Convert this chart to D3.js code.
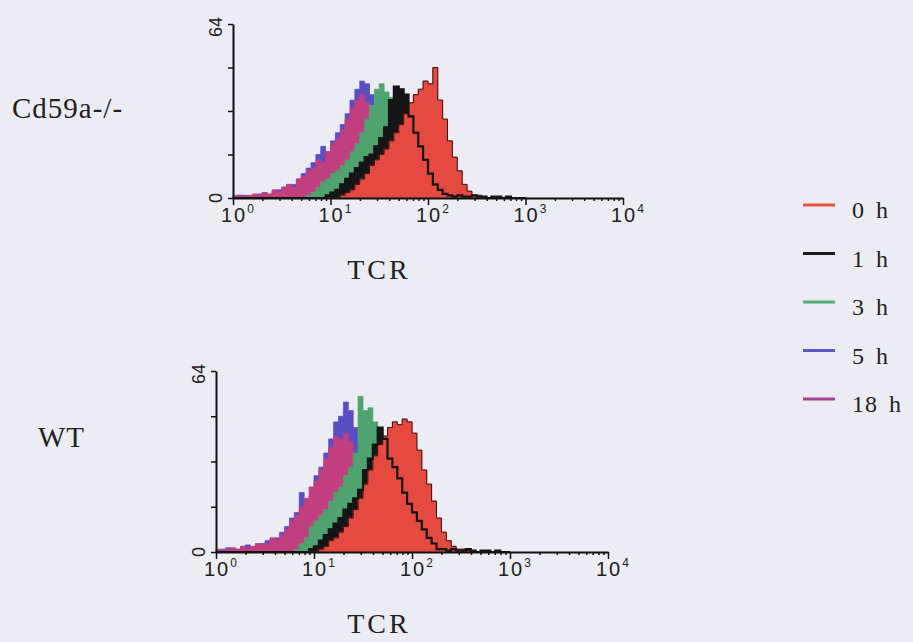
<!DOCTYPE html>
<html>
<head>
<meta charset="utf-8">
<script src="https://cdn.jsdelivr.net/npm/d3@7"></script>
<style>
  html, body { margin: 0; padding: 0; background: #ececf4; }
  svg { display: block; }
</style>
</head>
<body>
<div id="chart"></div>
<script>
// histogram bins: each value is the count in a bin 0.05 decade wide, starting at 10^0
const binStep = 0.05;
const seriesNames = ["0 h", "1 h", "3 h", "5 h", "18 h"];
const decadeLabels = ["0", "1", "2", "3", "4"];
const yTicks = [0, 16, 32, 48, 64];

const cd59_0h = [0,0,0,0,0,0,0,0,0,0, 0,0,0,0,0,0,0,0,0,0, 0,0,1,2,3,5,7,9,12,14,
  16,18,21,24,27,31,35,38,40,43, 42,48,36,29,21,15,10,5,2.5,1, 1,0.5,0,0,0,0,0,0,0,0];
const cd59_1h = [0,0,0,0,0,0,0,0,0,0, 0,0,0,0,0,0,0,0,0,1, 2,3,5,7,9,11,13,15,16,19,
  22,26,36,41,40,38,30,24,19,14, 9,5,3,1.5,1,0.5,1,0.5,0.5,1, 0.5,0.5,0,0.5,0.5,0,0.5,0,0,0];
const cd59_3h = [0,0,0,0,0,0,0,0,0,0, 0,0,0,0,0,1,2,4,6,7, 9,10,12,14,17,20,24,29,34,40,
  42,39,37,30,21,13,7,3,1,0, 0,0,0,0,0,0,0,0,0,0, 0,0,0,0,0,0,0,0,0,0];
const cd59_5h = [0.5,1,1,0.5,1,1.5,2,1,2.5,3, 4,5,5,7,9,11,13,16,19,17, 21,24,27,31,36,40,43,42,38,30,
  24,17,11,7,4,2,1,0,0,0, 0,0,0,0,0,0,0,0,0,0, 0,0,0,0,0,0,0,0,0,0];
const cd59_18h = [1,1,0.5,1,1.5,1,2,1.5,3,2.5, 4,5,4,7,8,10,11,14,13,17, 20,22,25,29,33,36,38,35,29,24,
  16,10,5,2.5,1,0,0,0,0,0, 0,0,0,0,0,0,0,0,0,0, 0,0,0,0,0,0,0,0,0,0];

const wt_0h = [0,0,0,0,0,0,0,0,0,0, 0,0,0,0,0,0,0,0,0,0, 0,1,2,4,5,7,9,12,15,19,
  24,29,34,38,41,44,46,45,47,46, 42,36,29,24,18,12,7,4,2,1, 1,0.5,0,0,0,0,0,0,0,0];
const wt_1h = [0,0,0,0,0,0,0,0,0,0, 0,0,0,0,0,0,0,0,0,1, 2,4,6,8,10,12,15,17,19,22,
  29,33,38,44,40,33,30,26,21,17, 14,11,8,5,3,1,1,0.5,1,0.5, 0.5,1,0.5,0,0.5,0.5,0,0.5,0,0];
const wt_3h = [0,0,0,0,0,0,0,0,0,0, 0,0,0,0,0,0,1,3,5,9, 11,13,15,18,21,23,27,30,35,55,
  50,51,46,40,31,23,16,9,4,1, 0,0,0,0,0,0,0,0,0,0, 0,0,0,0,0,0,0,0,0,0];
const wt_5h = [0.5,1,1.5,1,1,2,2.5,1.5,2,3, 4,4,5,7,9,12,14,21,18,20, 27,30,35,40,46,48,53,50,44,40,
  34,26,19,13,6,3,1,0,0,0, 0,0,0,0,0,0,0,0,0,0, 0,0,0,0,0,0,0,0,0,0];
const wt_18h = [1,0.5,1,1.5,1,2,1.5,2,3,2.5, 3,5,4.5,6,8,11,13,16,19,23, 25,29,33,37,41,40,42,39,34,30,
  23,16,9,5,2,1,0,0,0,0, 0,0,0,0,0,0,0,0,0,0, 0,0,0,0,0,0,0,0,0,0];

const colors = {
    "0 h": "#e5493f",
    "1 h": "#151515",
    "3 h": "#4fa36f",
    "5 h": "#5a4ec4",
    "18 h": "#c13f7f"
};
const legendColors = ["#e4563f", "#1c1c1c", "#55ae7c", "#5d58c6", "#a9438f"];

const width = 913, height = 642;

const svg = d3.select("#chart")
    .append("svg")
    .attr("width", width)
    .attr("height", height);

function toPoints(values) {
    const pts = values.map((v, i) => ({ x: Math.pow(10, i * binStep), v: v }));
    pts.push({ x: Math.pow(10, values.length * binStep), v: 0 });
    return pts;
}

function drawPanel(cfg) {
    const x = d3.scaleLog().domain([1, 1e4]).range([cfg.x0, cfg.x1]);
    const y = d3.scaleLinear().domain([0, 64]).range([cfg.y0, cfg.y1]);

    const area = d3.area()
        .curve(d3.curveStepAfter)
        .x(d => x(Math.min(d.x, 1e4)))
        .y0(y(0))
        .y1(d => y(d.v));

    const line = d3.line()
        .curve(d3.curveStepAfter)
        .x(d => x(Math.min(d.x, 1e4)))
        .y(d => y(d.v));

    const g = svg.append("g");

    // fills, back to front
    const fillOrder = [
        { name: "5 h", data: cfg.data["5 h"] },
        { name: "18 h", data: cfg.data["18 h"] },
        { name: "3 h", data: cfg.data["3 h"] },
        { name: "1 h", data: cfg.data["1 h"] },
        { name: "0 h", data: cfg.data["0 h"] }
    ];

    g.selectAll("path.fill")
        .data(fillOrder)
        .enter()
        .append("path")
        .attr("class", "fill")
        .attr("d", d => area(toPoints(d.data)))
        .attr("fill", d => colors[d.name])
        .attr("stroke", d => colors[d.name])
        .attr("stroke-width", 0.8);

    // red gets a dark edge, 1 h is drawn again as a line on top
    g.append("path")
        .attr("d", line(toPoints(cfg.data["0 h"])))
        .attr("fill", "none")
        .attr("stroke", "#3a1414")
        .attr("stroke-width", 1);

    g.append("path")
        .attr("d", line(toPoints(cfg.data["1 h"])))
        .attr("fill", "none")
        .attr("stroke", colors["1 h"])
        .attr("stroke-width", 2.2);

    // axes
    const majors = d3.range(0, 5).map(p => Math.pow(10, p));
    const minors = [];
    for (let p = 0; p < 4; p++) {
        for (let m = 2; m <= 9; m++) minors.push(m * Math.pow(10, p));
    }

    g.append("g")
        .attr("transform", `translate(0,${cfg.y0})`)
        .call(d3.axisBottom(x).tickValues(majors).tickSize(7).tickSizeOuter(0).tickFormat(""));
    g.append("g")
        .attr("transform", `translate(0,${cfg.y0})`)
        .call(d3.axisBottom(x).tickValues(minors).tickSize(3).tickSizeOuter(0).tickFormat(""))
        .select(".domain").remove();

    g.append("g")
        .attr("transform", `translate(${cfg.x0},0)`)
        .call(d3.axisLeft(y).tickValues(yTicks).tickSize(5).tickSizeOuter(0).tickFormat(""));

    g.selectAll(".domain").attr("stroke", "#111").attr("stroke-width", 2);
    g.selectAll(".tick line").attr("stroke", "#111").attr("stroke-width", 1.5);

    // decade labels 10^n
    const lbl = g.selectAll("text.xlab")
        .data(majors)
        .enter()
        .append("text")
        .attr("class", "xlab")
        .attr("x", d => x(d) - 12)
        .attr("y", cfg.y0 + 24)
        .attr("font-family", "Liberation Sans, Arial, sans-serif")
        .attr("font-size", "20px")
        .attr("letter-spacing", "2px")
        .attr("fill", "#222");
    lbl.append("tspan").text("10");
    lbl.append("tspan")
        .attr("dy", -9)
        .attr("font-size", "12px")
        .text((d, i) => decadeLabels[i]);

    // y labels 0 and 64, rotated
    g.selectAll("text.ylab")
        .data([0, 64])
        .enter()
        .append("text")
        .attr("class", "ylab")
        .attr("transform", d => `translate(${cfg.x0 - 11},${y(d) + (d === 64 ? 3 : 0)}) rotate(-90)`)
        .attr("text-anchor", "middle")
        .attr("font-family", "Liberation Sans, Arial, sans-serif")
        .attr("font-size", "18px")
        .attr("fill", "#222")
        .text(d => d);

    g.append("text")
        .attr("x", 379)
        .attr("y", cfg.y0 + 81)
        .attr("text-anchor", "middle")
        .attr("font-family", "Liberation Serif, Times New Roman, serif")
        .attr("font-size", "28px")
        .attr("letter-spacing", "3px")
        .attr("fill", "#222")
        .text("TCR");

    g.append("text")
        .attr("x", cfg.labelX)
        .attr("y", cfg.labelY)
        .attr("font-family", "Liberation Serif, Times New Roman, serif")
        .attr("font-size", "29px")
        .attr("letter-spacing", "1px")
        .attr("fill", "#222")
        .text(cfg.label);
}

drawPanel({
    x0: 233, x1: 623, y0: 198, y1: 24,
    label: "Cd59a-/-", labelX: 12, labelY: 118,
    data: { "0 h": cd59_0h, "1 h": cd59_1h, "3 h": cd59_3h, "5 h": cd59_5h, "18 h": cd59_18h }
});

drawPanel({
    x0: 216, x1: 608, y0: 552, y1: 371,
    label: "WT", labelX: 38, labelY: 447,
    data: { "0 h": wt_0h, "1 h": wt_1h, "3 h": wt_3h, "5 h": wt_5h, "18 h": wt_18h }
});

// legend
const legend = svg.append("g")
    .selectAll("g")
    .data(seriesNames)
    .enter()
    .append("g")
    .attr("transform", (d, i) => `translate(803,${205 + i * 48.5})`);

legend.append("line")
    .attr("x1", 0)
    .attr("x2", 32)
    .attr("stroke", (d, i) => legendColors[i])
    .attr("stroke-width", 3);

legend.append("text")
    .attr("x", 49)
    .attr("y", 13)
    .attr("font-family", "Liberation Serif, Times New Roman, serif")
    .attr("font-size", "24px")
    .attr("letter-spacing", "1px")
    .attr("word-spacing", "4px")
    .attr("fill", "#222")
    .text(d => d);
</script>
</body>
</html>
